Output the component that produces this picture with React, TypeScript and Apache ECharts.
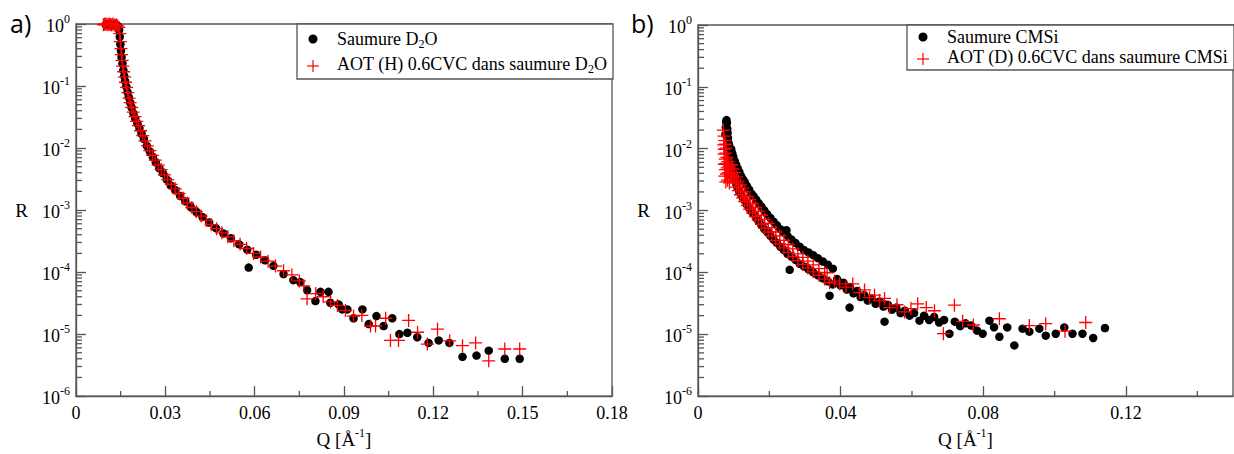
import React, { useEffect, useRef } from 'react';
import * as echarts from 'echarts';

// ---------------- data (Q [Å-1], R) ----------------
const leftBlack: [number, number][] = [
  [0.0100, 0.98], [0.0106, 0.97], [0.0112, 0.99], [0.0118, 0.96], [0.0124, 0.98], [0.0130, 0.97], [0.0136, 0.95], [0.0141, 0.92],
  [0.0145, 0.8], [0.0147, 0.62], [0.0149, 0.47], [0.0151, 0.37], [0.0153, 0.29], [0.0156, 0.23], [0.0159, 0.18], [0.0162, 0.145],
  [0.0165, 0.12], [0.0169, 0.098], [0.0173, 0.08], [0.0177, 0.066], [0.0182, 0.054], [0.0187, 0.045], [0.0193, 0.036], [0.0199, 0.030],
  [0.0206, 0.025], [0.0213, 0.021], [0.0220, 0.017], [0.0228, 0.014], [0.0238, 0.0108], [0.0248, 0.0088], [0.0258, 0.0072], [0.0268, 0.0059],
  [0.0280, 0.0047], [0.0292, 0.0039], [0.0305, 0.0031], [0.0318, 0.0025], [0.0333, 0.0021], [0.0350, 0.00168], [0.0367, 0.00138], [0.0385, 0.00112],
  [0.0405, 0.00093], [0.0425, 0.00077], [0.0447, 0.00063], [0.0470, 0.00051], [0.0495, 0.00042], [0.0520, 0.00035], [0.0548, 0.00028], [0.0575, 0.00023],
  [0.0580, 0.000118], [0.0605, 0.00019], [0.0635, 0.000155], [0.0663, 0.000126], [0.0697, 0.000093], [0.0730, 0.000074], [0.0753, 0.000069], [0.0776, 0.000051],
  [0.0804, 0.000034], [0.0821, 0.000048], [0.0848, 0.000048], [0.0854, 0.000032], [0.0882, 0.00003], [0.0894, 0.000025], [0.0911, 0.000025], [0.0932, 0.000018],
  [0.0962, 0.000025], [0.0983, 0.0000145], [0.1009, 0.0000195], [0.1033, 0.0000135], [0.1062, 0.000018], [0.1086, 0.00001], [0.1113, 0.0000105], [0.1146, 0.0000089],
  [0.1184, 0.0000072], [0.1218, 0.0000079], [0.1254, 0.0000072], [0.1298, 0.0000043], [0.1345, 0.0000045], [0.1386, 0.0000054], [0.1440, 0.000004], [0.1490, 0.000004],
];

const leftRed: [number, number][] = [
  [0.0092, 0.97], [0.0096, 1.0], [0.0100, 0.98], [0.0104, 1.0], [0.0108, 0.97], [0.0112, 1.0], [0.0116, 0.98], [0.0120, 0.96],
  [0.0124, 1.0], [0.0128, 0.97], [0.0132, 0.95], [0.0136, 0.97], [0.0140, 0.93], [0.0144, 0.88],
  [0.0147, 0.7], [0.0149, 0.52], [0.0151, 0.40], [0.0153, 0.32], [0.0155, 0.26], [0.0157, 0.21], [0.0160, 0.17], [0.0163, 0.14],
  [0.0166, 0.115], [0.0170, 0.095], [0.0174, 0.078], [0.0178, 0.064], [0.0182, 0.054], [0.0187, 0.045], [0.0192, 0.038], [0.0198, 0.032],
  [0.0204, 0.027], [0.0210, 0.023], [0.0217, 0.019], [0.0224, 0.0158], [0.0232, 0.013], [0.0240, 0.0108], [0.0248, 0.0091], [0.0257, 0.0076],
  [0.0266, 0.0064], [0.0276, 0.0053], [0.0286, 0.0045], [0.0297, 0.0037], [0.0308, 0.0031], [0.0320, 0.0026], [0.0333, 0.0022], [0.0346, 0.00185],
  [0.0360, 0.00155], [0.0374, 0.0013], [0.0389, 0.0011], [0.0404, 0.00094], [0.0420, 0.0008], [0.0437, 0.00068], [0.0454, 0.00058], [0.0472, 0.0005],
  [0.0490, 0.00043], [0.0510, 0.00037], [0.0530, 0.00032], [0.0551, 0.00028], [0.0573, 0.00024], [0.0596, 0.0002], [0.0620, 0.000175], [0.0645, 0.00015],
  [0.0670, 0.000125], [0.0697, 0.000105], [0.0725, 0.00009], [0.0750, 0.000072], [0.0765, 0.00006], [0.0776, 0.000037], [0.0805, 0.000045], [0.0830, 0.00004],
  [0.0855, 0.000033], [0.0878, 0.000029], [0.0905, 0.000024], [0.0932, 0.0000195], [0.0960, 0.00002], [0.0989, 0.0000135], [0.1006, 0.0000135], [0.1040, 0.000018],
  [0.1056, 0.0000079], [0.1083, 0.0000079], [0.1117, 0.0000166], [0.1147, 0.0000107], [0.1180, 0.0000069], [0.1214, 0.000012], [0.1255, 0.0000078], [0.1298, 0.0000065],
  [0.1342, 0.0000072], [0.1386, 0.0000037], [0.1440, 0.00000575], [0.1490, 0.00000575],
];

const rightBlack: [number, number][] = [
  [0.0077, 0.017], [0.0078, 0.022], [0.0079, 0.027], [0.0080, 0.029], [0.0081, 0.026], [0.0082, 0.021], [0.0083, 0.018], [0.0084, 0.015],
  [0.0085, 0.0125], [0.0086, 0.010], [0.0087, 0.0115], [0.0088, 0.0085], [0.0089, 0.0095], [0.0090, 0.0068], [0.0091, 0.0078],
  [0.0093, 0.0098], [0.0093, 0.0052], [0.0096, 0.0085], [0.0096, 0.0044], [0.0099, 0.0074], [0.0099, 0.0037], [0.0103, 0.0063], [0.0103, 0.0031],
  [0.0107, 0.0055], [0.0107, 0.0027], [0.0111, 0.0048], [0.0111, 0.0023], [0.0116, 0.0042], [0.0116, 0.0020], [0.0121, 0.0036], [0.0121, 0.0018],
  [0.0126, 0.0032], [0.0126, 0.0016], [0.0131, 0.0029], [0.0131, 0.00145], [0.0137, 0.0025], [0.0137, 0.00125], [0.0143, 0.0022], [0.0143, 0.0011],
  [0.0149, 0.0019], [0.0149, 0.00098], [0.0156, 0.0017], [0.0156, 0.00088], [0.0163, 0.0015], [0.0163, 0.00076], [0.0170, 0.00132], [0.0170, 0.00067],
  [0.0178, 0.00115], [0.0178, 0.00058], [0.0186, 0.0010], [0.0186, 0.0005], [0.0194, 0.00087], [0.0194, 0.00045], [0.0203, 0.00076], [0.0203, 0.00039],
  [0.0212, 0.00066], [0.0212, 0.00034], [0.0221, 0.00058], [0.0221, 0.0003], [0.0231, 0.0005], [0.0231, 0.00026], [0.0241, 0.00044], [0.0241, 0.00023],
  [0.0248, 0.00048], [0.0251, 0.00039], [0.0251, 0.0002], [0.0257, 0.00011], [0.0262, 0.00034], [0.0262, 0.00018], [0.0273, 0.0003], [0.0273, 0.00016],
  [0.0285, 0.00026], [0.0285, 0.000138], [0.0297, 0.00023], [0.0297, 0.000125], [0.0310, 0.00021], [0.0310, 0.000112], [0.0323, 0.00019], [0.0323, 0.0001],
  [0.0336, 0.00017], [0.0336, 0.00009], [0.0350, 0.00015], [0.0350, 0.00008], [0.0364, 0.000133], [0.0364, 0.000072], [0.0369, 0.000042], [0.0378, 0.000115],
  [0.0378, 0.000064], [0.0390, 0.000078], [0.0399, 0.000062], [0.0408, 0.000068],
  [0.0417, 0.000053], [0.0425, 0.000027], [0.0426, 0.000058], [0.0436, 0.000046], [0.0446, 0.00005], [0.0456, 0.00004], [0.0466, 0.000043], [0.0476, 0.000035],
  [0.0487, 0.000038], [0.0498, 0.000031], [0.0509, 0.000034], [0.0520, 0.000028], [0.0523, 0.000016], [0.0532, 0.00003], [0.0544, 0.000025], [0.0556, 0.000027],
  [0.0568, 0.000022], [0.0580, 0.000024], [0.0593, 0.00002], [0.0606, 0.000022], [0.0621, 0.0000166], [0.0634, 0.00002], [0.0648, 0.000017], [0.0662, 0.000019],
  [0.0676, 0.0000155], [0.0690, 0.000017], [0.0705, 0.0000102], [0.0720, 0.000016], [0.0735, 0.0000135], [0.0750, 0.000015], [0.0766, 0.0000138], [0.0782, 0.0000115],
  [0.0798, 0.0000102], [0.0817, 0.0000166], [0.0830, 0.000013], [0.0845, 0.0000091], [0.0867, 0.0000129], [0.0887, 0.0000066], [0.0910, 0.0000123], [0.0929, 0.000011],
  [0.0957, 0.0000123], [0.0975, 0.0000095], [0.1003, 0.0000102], [0.1027, 0.0000129], [0.1050, 0.0000102], [0.1078, 0.0000102], [0.1108, 0.0000087], [0.1141, 0.0000126],
];

const rightRed: [number, number][] = [
  [0.0071, 0.020], [0.0073, 0.016], [0.0075, 0.0135], [0.0072, 0.0115], [0.0077, 0.0118], [0.0074, 0.0098], [0.0079, 0.0102], [0.0073, 0.0082],
  [0.0078, 0.0085], [0.0076, 0.0068], [0.0081, 0.0072], [0.0074, 0.0056], [0.0079, 0.0058], [0.0084, 0.0062], [0.0077, 0.0046], [0.0082, 0.0049],
  [0.0087, 0.0052], [0.0075, 0.0036], [0.0080, 0.0039], [0.0085, 0.0041], [0.0078, 0.0029], [0.0083, 0.0031], [0.0090, 0.0036], [0.0088, 0.0028],
  [0.0094, 0.0055], [0.0094, 0.0038], [0.0098, 0.0047], [0.0098, 0.0033], [0.0103, 0.0041], [0.0103, 0.0028], [0.0108, 0.0035], [0.0108, 0.0024],
  [0.0113, 0.0030], [0.0113, 0.0021], [0.0119, 0.0026], [0.0119, 0.0018], [0.0125, 0.0023], [0.0125, 0.0016], [0.0131, 0.0020], [0.0131, 0.0014],
  [0.0138, 0.0017], [0.0138, 0.0012], [0.0145, 0.0015], [0.0145, 0.00105], [0.0153, 0.0013], [0.0153, 0.00092], [0.0161, 0.00112], [0.0161, 0.0008],
  [0.0169, 0.00097], [0.0169, 0.0007], [0.0178, 0.00084], [0.0178, 0.0006], [0.0187, 0.00072], [0.0187, 0.00052], [0.0197, 0.00062], [0.0197, 0.00045],
  [0.0207, 0.00053], [0.0207, 0.00039], [0.0218, 0.00045], [0.0218, 0.00033], [0.0229, 0.00039], [0.0229, 0.00029], [0.0241, 0.00033], [0.0241, 0.00025],
  [0.0253, 0.00028], [0.0253, 0.00021], [0.0266, 0.00024], [0.0266, 0.00018], [0.0280, 0.0002], [0.0280, 0.000155], [0.0294, 0.000175], [0.0294, 0.000135],
  [0.0308, 0.000152], [0.0308, 0.000118], [0.0323, 0.000132], [0.0323, 0.000102], [0.0339, 0.000115], [0.0339, 0.00009], [0.0355, 0.0001], [0.0355, 0.000078],
  [0.0362, 0.000098], [0.0369, 0.000068], [0.0383, 0.000072], [0.0397, 0.000065],
  [0.0415, 0.000058], [0.0434, 0.000065], [0.0453, 0.000047], [0.0467, 0.000052], [0.0481, 0.000039], [0.0495, 0.000043], [0.0509, 0.000035], [0.0523, 0.000038],
  [0.0537, 0.000027], [0.0558, 0.00003], [0.0579, 0.000023], [0.0597, 0.000026], [0.0616, 0.000031], [0.0640, 0.000027], [0.0663, 0.000024], [0.0688, 0.0000102],
  [0.0719, 0.0000295], [0.0742, 0.0000162], [0.0772, 0.0000141], [0.0845, 0.0000178], [0.0929, 0.0000138], [0.0975, 0.0000148], [0.1029, 0.0000112], [0.1087, 0.0000155],
];

const leftNames = ['Saumure D2O', 'AOT (H) 0.6CVC dans saumure D2O'];
const rightNames = ['Saumure CMSi', 'AOT (D) 0.6CVC dans saumure CMSi'];
const panelLabels = ['a)', 'b)'];

const leftXMax = 0.18;
const leftXStep = 0.03;
const rightXMax = 0.15;
const rightXStep = 0.04;
const leftMinorX = [0.015, 0.045, 0.075, 0.105, 0.135, 0.165];
const rightMinorX = [0.02, 0.06, 0.1, 0.14];
const decadeExponents = [-6, -5, -4, -3, -2, -1];
const minorMultipliers = [2, 3, 4, 5, 6, 7, 8, 9];
const yMin = 1e-6;
const yMax = 1;

// ---------------- styles ----------------
const SERIF = 'Liberation Serif, Times New Roman, serif';
const SANS = 'Open Sans, Liberation Sans, sans-serif';
const FRAME = '#555555';
const CROSS = 'path://M0,10.8H24V13.2H0Z M10.8,0H13.2V24H10.8Z';

function minorTickData(xs: number[]) {
  const d: number[][] = [];
  xs.forEach((x) => d.push([x, yMin, 0]));
  decadeExponents.forEach((e) => minorMultipliers.forEach((m) => d.push([0, m * Math.pow(10, e), 1])));
  return d;
}

const serifRich = {
  t: { fontSize: 18, fontFamily: SERIF, color: '#000', lineHeight: 22 },
  r: { fontSize: 19, fontFamily: SERIF, color: '#000', lineHeight: 22 },
  q: { fontSize: 19, fontFamily: SERIF, color: '#000', lineHeight: 22, verticalAlign: 'bottom' },
  b: { fontSize: 18, fontFamily: SERIF, color: '#000', lineHeight: 22, verticalAlign: 'bottom' },
  s: { fontSize: 12, fontFamily: SERIF, color: '#000', lineHeight: 12, verticalAlign: 'top' },
  sup: { fontSize: 12, fontFamily: SERIF, color: '#000', lineHeight: 12, verticalAlign: 'top' },
};

function makeYAxis(gridIndex: number) {
  return {
    type: 'log',
    gridIndex,
    logBase: 10,
    min: yMin,
    max: yMax,
    splitNumber: 6,
    name: '{r|R}',
    nameLocation: 'middle',
    nameRotate: 0,
    nameGap: 48,
    nameTextStyle: { fontSize: 19, fontFamily: SERIF, color: '#000', rich: serifRich },
    axisLine: { show: true, lineStyle: { color: FRAME, width: 1.3 } },
    axisTick: { show: true, inside: true, length: 10, lineStyle: { color: FRAME, width: 1.3 } },
    splitLine: { show: false },
    axisLabel: {
      margin: 6,
      fontFamily: SERIF,
      formatter: (v: number) => `{b|10}{s|${Math.round(Math.log10(v))}}`,
      rich: serifRich,
    },
  };
}

function makeXAxis(gridIndex: number, max: number, step: number) {
  return {
    type: 'value',
    gridIndex,
    min: 0,
    max,
    interval: step,
    name: '{q|Q [Å}{sup|-1}{q|]}',
    nameLocation: 'middle',
    nameGap: 26,
    nameTextStyle: { fontSize: 19, fontFamily: SERIF, color: '#000', rich: serifRich },
    axisLine: { show: true, onZero: false, lineStyle: { color: FRAME, width: 1.3 } },
    axisTick: { show: true, inside: true, length: 10, lineStyle: { color: FRAME, width: 1.3 } },
    splitLine: { show: false },
    axisLabel: {
      margin: 6,
      fontSize: 18,
      fontFamily: SERIF,
      color: '#000',
      showMaxLabel: max === leftXMax,
      formatter: (v: number) => `{t|${v === 0 ? '0' : String(+v.toFixed(3))}}`,
      rich: serifRich,
    },
  };
}

function minorSeries(index: number, xs: number[]) {
  return {
    type: 'custom',
    xAxisIndex: index,
    yAxisIndex: index,
    silent: true,
    clip: false,
    z: 5,
    data: minorTickData(xs),
    renderItem: (_params: any, api: any) => {
      const kind = api.value(2);
      const p = api.coord([api.value(0), api.value(1)]);
      const shape =
        kind === 0
          ? { x1: p[0], y1: p[1], x2: p[0], y2: p[1] - 5 }
          : { x1: p[0], y1: p[1], x2: p[0] + 6, y2: p[1] };
      return { type: 'line', shape, style: { stroke: FRAME, lineWidth: 1.3 } };
    },
  };
}

function scatter(name: string, index: number, data: [number, number][], red: boolean) {
  return {
    type: 'scatter',
    name,
    xAxisIndex: index,
    yAxisIndex: index,
    data,
    clip: false,
    symbol: red ? CROSS : 'circle',
    symbolSize: red ? 13 : 8.5,
    itemStyle: { color: red ? '#ff0000' : '#000000', opacity: 1 },
    z: red ? 3 : 2,
  };
}

const legendRich = {
  sub: { fontSize: 12, fontFamily: SERIF, color: '#000', verticalAlign: 'bottom', lineHeight: 12 },
};

function legendText(text: string, x: number, y: number) {
  return {
    type: 'text',
    x,
    y,
    z: 11,
    style: {
      text: text.replace('D2O', 'D{sub|2}O'),
      fontSize: 18,
      fontFamily: SERIF,
      fill: '#000',
      verticalAlign: 'middle',
      align: 'left',
      lineHeight: 22,
      rich: legendRich,
    },
  };
}

function crossLines(cx: number, cy: number) {
  return [
    { type: 'line', z: 12, shape: { x1: cx - 6, y1: cy, x2: cx + 6, y2: cy }, style: { stroke: '#ff0000', lineWidth: 1.2 } },
    { type: 'line', z: 12, shape: { x1: cx, y1: cy - 6, x2: cx, y2: cy + 6 }, style: { stroke: '#ff0000', lineWidth: 1.2 } },
  ];
}

function legendBox(x: number, y: number, w: number, h: number, names: string[], row1: number, row2: number) {
  return [
    { type: 'rect', z: 10, shape: { x, y, width: w, height: h }, style: { fill: '#fff', stroke: FRAME, lineWidth: 1.3 } },
    { type: 'circle', z: 11, shape: { cx: x + 16, cy: row1, r: 4.5 }, style: { fill: '#000' } },
    ...crossLines(x + 16, row2),
    legendText(names[0], x + 40, row1),
    legendText(names[1], x + 40, row2 - 2),
  ];
}

export default function App() {
  const ref = useRef<HTMLDivElement>(null);

  useEffect(() => {
    if (!ref.current) return;
    const chart = echarts.init(ref.current, null, { renderer: 'svg' });
    const option: any = {
      animation: false,
      backgroundColor: '#ffffff',
      textStyle: { fontFamily: SERIF },
      grid: [
        { left: 76, top: 24, width: 536, height: 377, show: true, borderColor: FRAME, borderWidth: 1.3, backgroundColor: 'transparent' },
        { left: 698, top: 25, width: 535, height: 377, show: true, borderColor: FRAME, borderWidth: 1.3, backgroundColor: 'transparent' },
      ],
      xAxis: [makeXAxis(0, leftXMax, leftXStep), makeXAxis(1, rightXMax, rightXStep)],
      yAxis: [makeYAxis(0), makeYAxis(1)],
      series: [
        minorSeries(0, leftMinorX),
        minorSeries(1, rightMinorX),
        scatter(leftNames[0], 0, leftBlack, false),
        scatter(leftNames[1], 0, leftRed, true),
        scatter(rightNames[0], 1, rightBlack, false),
        scatter(rightNames[1], 1, rightRed, true),
      ],
      graphic: [
        { type: 'text', x: 10, y: 10, style: { text: panelLabels[0], fontSize: 25, fontFamily: SANS, fill: '#000' } },
        { type: 'text', x: 631, y: 10, style: { text: panelLabels[1], fontSize: 25, fontFamily: SANS, fill: '#000' } },
        ...legendBox(297, 24, 316, 55, leftNames, 39, 66),
        ...legendBox(907, 25, 327, 45, rightNames, 37, 59),
      ],
    };
    chart.setOption(option);
    return () => chart.dispose();
  }, []);

  return (
    <div
      ref={ref}
      style={{ position: 'fixed', left: 0, top: 0, width: 1234, height: 454, background: '#fff' }}
    />
  );
}
